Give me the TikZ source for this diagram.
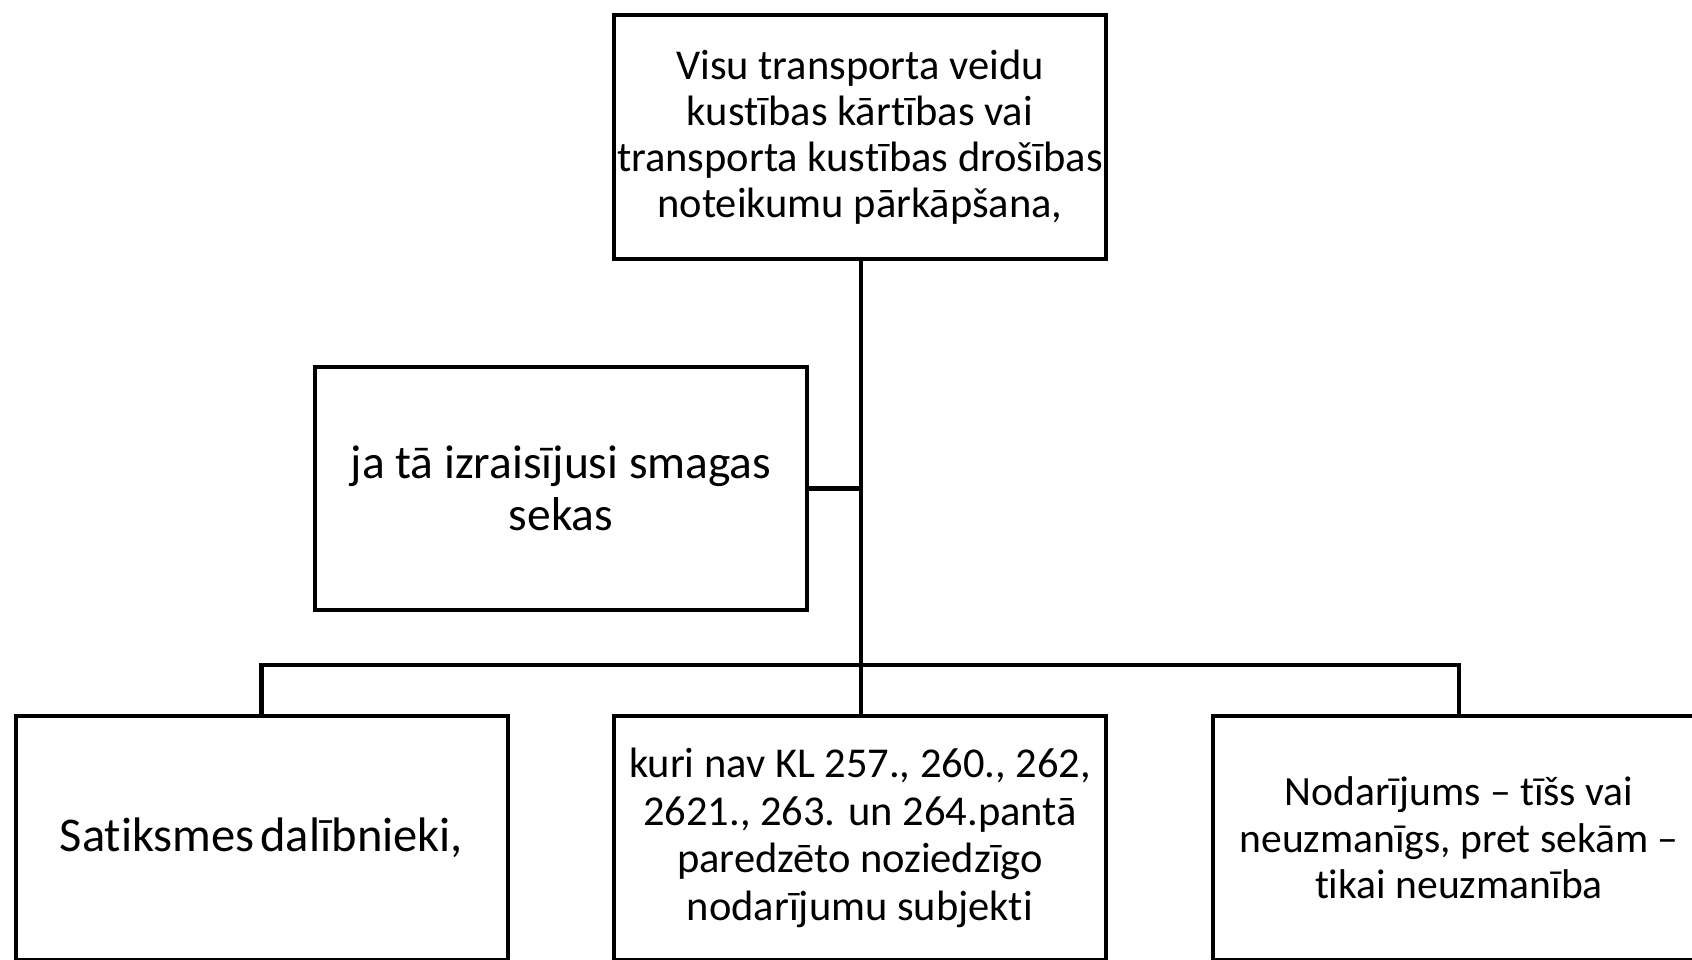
\documentclass[tikz,border=0pt]{standalone}
\usepackage{fontspec}
\setmainfont{Carlito}[RawFeature={-liga}]
\begin{document}
\begin{tikzpicture}[x=1pt,y=-1pt,
  box/.style={draw=black,line width=4pt,fill=white,minimum width=492pt,minimum height=244pt,align=center,inner sep=0pt},
  conn/.style={draw=black,line width=4.5pt}]
\useasboundingbox (0,0) rectangle (1692,959);
\clip (0,0) rectangle (1692,959);
\node[box,font=\fontsize{42.5}{46}\selectfont] (top) at (860,137) {Visu transporta veidu\\kustības kārtības vai\\transporta kustības drošības\\noteikumu pārkāpšana,};
\node[box,minimum height=243pt,font=\fontsize{47.5}{52}\selectfont] (cond) at (561,488.5) {ja tā izraisījusi smagas\\sekas};
\node[box,font=\fontsize{48.5}{48}\selectfont] (bl) at (261.5,838) {Satiksmes\hspace{0.12em}dalībnieki,};
\node[box,font=\fontsize{42.5}{47.5}\selectfont] (bm) at (860,838) {kuri nav KL 257., 260., 262,\\2621., 263. un 264.pantā\\paredzēto noziedzīgo\\nodarījumu subjekti};
\node[box,font=\fontsize{41.6}{46.5}\selectfont] (br) at (1459,838) {Nodarījums – tīšs vai\\neuzmanīgs, pret sekām –\\tikai neuzmanība};
\coordinate (bus) at (861,665);
\draw[conn] (top.south -| bus) -- (bm.north -| bus);
\draw[conn] (cond.east) -- (cond.east -| bus);
\draw[conn] (bl.north) -- (bl.north |- bus) -- (br.north |- bus) -- (br.north);
\end{tikzpicture}
\end{document}
